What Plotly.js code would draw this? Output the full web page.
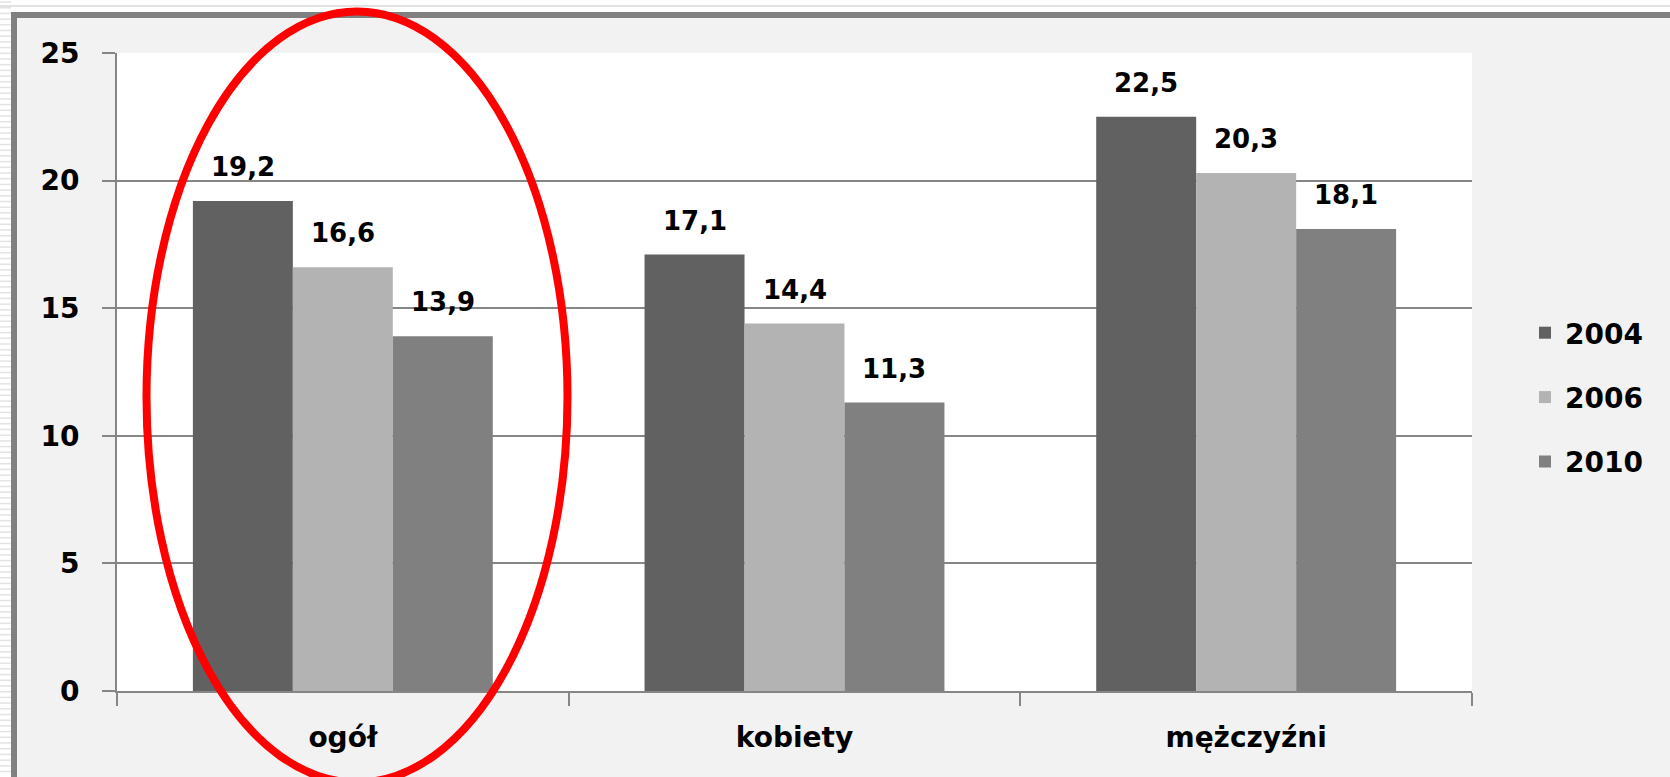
<!DOCTYPE html>
<html><head><meta charset="utf-8">
<script src="https://cdn.plot.ly/plotly-3.0.1.min.js"></script>
<style>html,body{margin:0;padding:0;overflow:hidden;background:#fff}</style>
</head><body><div id="chart" style="width:1670px;height:777px"></div>
<script>
const categories = ['ogół', 'kobiety', 'mężczyźni'];
const years = ['2004', '2006', '2010'];
const values2004 = [19.2, 17.1, 22.5];
const values2006 = [16.6, 14.4, 20.3];
const values2010 = [13.9, 11.3, 18.1];
const yTickValues = [0, 5, 10, 15, 20, 25];

const seriesValues = [values2004, values2006, values2010];
const seriesColors = ['#616161', '#b3b3b3', '#808080'];

const W = 1670, H = 777, L = 117, R = 198, T = 53, B = 86;
const PW = W - L - R, PH = H - T - B;
const px = p => (p - L) / PW;
const py = p => (H - B - p) / PH;

const BARGAP = 0.336;
const baseFont = {family: 'DejaVu Sans, Verdana, sans-serif', color: '#000', weight: 'bold'};

const traces = seriesValues.map((vals, j) => ({
  type: 'bar', name: years[j], x: categories, y: vals,
  marker: {color: seriesColors[j], line: {width: 0}},
  legendgroup: years[j], hoverinfo: 'skip'
}));

const nS = seriesValues.length;
const barW = (1 - BARGAP) / nS;
const annotations = [];
seriesValues.forEach((vals, j) => vals.forEach((v, i) => {
  annotations.push({
    x: i + (j - (nS - 1) / 2) * barW, y: v, xref: 'x', yref: 'y',
    text: v.toFixed(1).replace('.', ','), showarrow: false,
    yanchor: 'bottom', yshift: 17, font: Object.assign({}, baseFont, {size: 26})
  });
}));

const shapes = [];
// white outer strips
shapes.push({type: 'rect', xref: 'paper', yref: 'paper', x0: px(0), x1: px(11), y0: py(H + 5), y1: py(-5), fillcolor: '#ffffff', line: {width: 0}, layer: 'above'});
shapes.push({type: 'rect', xref: 'paper', yref: 'paper', x0: px(0), x1: px(W + 5), y0: py(12), y1: py(-5), fillcolor: '#ffffff', line: {width: 0}, layer: 'above'});
for (let yy = 2; yy < H; yy += 5.7) {
  shapes.push({type: 'line', xref: 'paper', yref: 'paper', x0: px(0), x1: px(11), y0: py(yy), y1: py(yy), line: {color: '#e3e3e3', width: 1.5}, layer: 'above'});
}
shapes.push({type: 'line', xref: 'paper', yref: 'paper', x0: px(0), x1: px(W + 5), y0: py(6), y1: py(6), line: {color: '#e2e2e2', width: 2}, layer: 'above'});
// frame border
shapes.push({type: 'path', xref: 'paper', yref: 'paper',
  path: `M ${px(14)} ${py(H + 10)} L ${px(14)} ${py(15)} L ${px(W + 10)} ${py(15)}`,
  line: {color: '#808080', width: 6}, layer: 'above'});
// red ellipse
shapes.push({type: 'circle', xref: 'paper', yref: 'paper',
  x0: px(146.5), x1: px(567.5), y0: py(782.5), y1: py(11.5),
  line: {color: '#ff0000', width: 8}, layer: 'above'});

const layout = {
  width: W, height: H,
  margin: {l: L, r: R, t: T, b: B, pad: 0},
  paper_bgcolor: '#f2f2f2', plot_bgcolor: '#ffffff',
  barmode: 'group', bargap: BARGAP, bargroupgap: 0,
  showlegend: true,
  legend: {x: px(1525), y: py(308), xanchor: 'left', yanchor: 'top',
    font: Object.assign({}, baseFont, {size: 28}), bgcolor: 'rgba(0,0,0,0)',
    traceorder: 'grouped', tracegroupgap: 25},
  xaxis: {type: 'category', showline: true, linecolor: '#868686', linewidth: 2,
    ticks: 'outside', tickson: 'boundaries', ticklen: 13, tickwidth: 2, tickcolor: '#868686',
    showgrid: false, ticklabelstandoff: 20, tickfont: Object.assign({}, baseFont, {size: 28}), fixedrange: true},
  yaxis: {range: [0, 25], tickvals: yTickValues, showline: true, linecolor: '#868686', linewidth: 2,
    ticks: 'outside', ticklen: 13, tickwidth: 2, tickcolor: '#868686',
    showgrid: true, gridcolor: '#868686', gridwidth: 2, zeroline: false,
    ticklabelstandoff: 17, tickfont: Object.assign({}, baseFont, {size: 28}), fixedrange: true},
  annotations: annotations,
  shapes: shapes
};

Plotly.newPlot('chart', traces, layout, {displayModeBar: false, staticPlot: true});
</script></body></html>
